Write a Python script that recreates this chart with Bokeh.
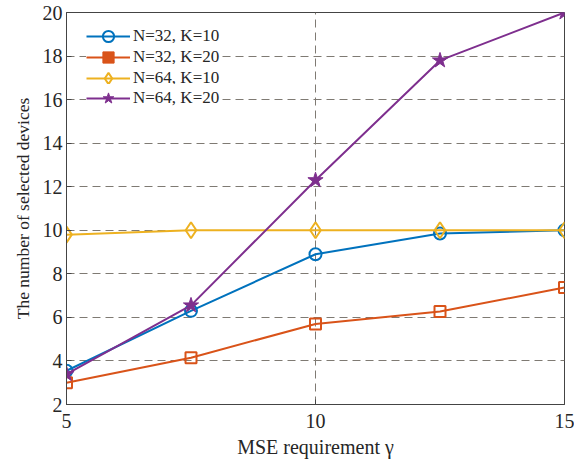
from bokeh.plotting import figure
from bokeh.models import Legend, LegendItem, FixedTicker
from bokeh.embed import file_html
from bokeh.resources import INLINE

gamma = [5, 7.5, 10, 12.5, 15]
n32_k10 = [3.55, 6.3, 8.9, 9.85, 10.0]
n32_k20 = [3.0, 4.15, 5.7, 6.27, 7.37]
n64_k10 = [9.8, 10.0, 10.0, 10.0, 10.0]
n64_k20 = [3.4, 6.55, 12.3, 17.8, 20.0]
x_ticks = [5, 10, 15]
y_ticks = [2, 4, 6, 8, 10, 12, 14, 16, 18, 20]
labels = ["N=32, K=10", "N=32, K=20", "N=64, K=10", "N=64, K=20"]

C1, C2, C3, C4 = "#0072BD", "#D95319", "#EDB120", "#7E2F8E"
FONT = "Liberation Serif"
TXT = "#262626"

p = figure(width=574, height=465, output_backend="svg", toolbar_location=None,
           x_range=(5, 15), y_range=(2, 20),
           min_border_left=66, min_border_right=10, min_border_top=12, min_border_bottom=61)

p.outline_line_color = "#444444"
p.outline_line_width = 1
p.background_fill_color = "white"

for ax in (p.xaxis[0], p.yaxis[0]):
    ax.major_label_text_font = FONT
    ax.major_label_text_font_size = "20px"
    ax.major_label_text_color = TXT
    ax.axis_label_text_font = FONT
    ax.axis_label_text_font_style = "normal"
    ax.axis_label_text_color = TXT
    ax.axis_line_color = "#444444"
    ax.major_tick_in = 5
    ax.major_tick_out = 0
    ax.major_tick_line_color = "#444444"
    ax.minor_tick_line_color = None

p.xaxis.axis_label_text_font_size = "20px"
p.yaxis.axis_label_text_font_size = "17.5px"
p.xaxis.ticker = FixedTicker(ticks=x_ticks)
p.yaxis.ticker = FixedTicker(ticks=y_ticks)
p.xaxis.axis_label = "MSE requirement γ"
p.yaxis.axis_label = "The number of selected devices"
p.xaxis.major_label_standoff = 9
p.xaxis.axis_label_standoff = 5
p.yaxis.major_label_standoff = 4
p.yaxis.axis_label_standoff = 7

p.xgrid.ticker = FixedTicker(ticks=[10])
p.ygrid.ticker = FixedTicker(ticks=y_ticks[1:-1])
for g in (p.xgrid[0], p.ygrid[0]):
    g.grid_line_color = "#7f7a73"
    g.grid_line_width = 1
    g.grid_line_dash = "8 5"

lw = 2
l1 = p.line(gamma, n32_k10, color=C1, line_width=lw)
m1 = p.scatter(gamma, n32_k10, marker="circle", size=12, line_color=C1, fill_color=None, line_width=2)
l2 = p.line(gamma, n32_k20, color=C2, line_width=lw)
m2 = p.scatter(gamma, n32_k20, marker="square", size=11, line_color=C2, fill_color=None, line_width=2)
l3 = p.line(gamma, n64_k10, color=C3, line_width=lw)
m3 = p.scatter(gamma, n64_k10, marker="diamond", size=16, line_color=C3, fill_color=None, line_width=2)
l4 = p.line(gamma, n64_k20, color=C4, line_width=lw)
m4 = p.scatter(gamma, n64_k20, marker="star", size=16, line_color=C4, fill_color=C4, line_width=1)

# legend-only square (filled, as in the reference legend); no visible data
nan = float("nan")
sq = p.scatter(x=[nan], y=[nan], marker="square", size=12, line_color=C2, fill_color=C2)

entries = [(labels[0], [l1, m1]), (labels[1], [l2, sq]),
           (labels[2], [l3, m3]), (labels[3], [l4, m4])]
offsets_y = [354, 333, 312, 292]   # screen offsets of each legend row box
for (lab, rends), oy in zip(entries, offsets_y):
    lg = Legend(items=[LegendItem(label=lab, renderers=rends)], location=(20, oy))
    lg.label_text_font = FONT
    lg.label_text_font_size = "17px"
    lg.label_text_color = TXT
    lg.border_line_color = None
    lg.background_fill_color = "white"
    lg.background_fill_alpha = 1
    lg.glyph_width = 44
    lg.glyph_height = 28
    lg.label_height = 21
    lg.spacing = 0
    lg.padding = 8
    lg.margin = 0
    lg.label_standoff = 3
    p.add_layout(lg)

open("out.html", "w").write(file_html(p, INLINE))
